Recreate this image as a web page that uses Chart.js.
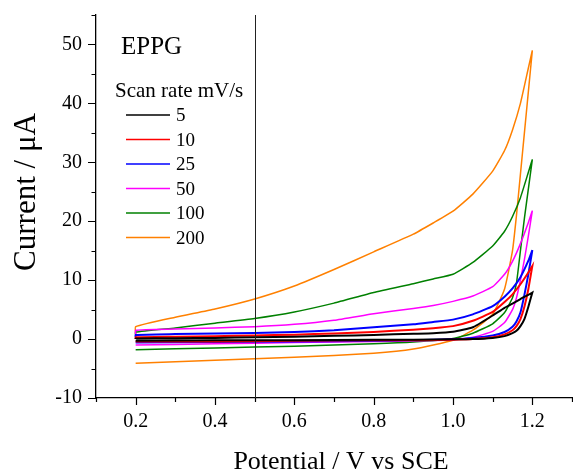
<!DOCTYPE html>
<html>
<head>
<meta charset="utf-8">
<script src="https://cdn.jsdelivr.net/npm/chart.js@4.4.1/dist/chart.umd.min.js"></script>
<style>
html, body { margin: 0; padding: 0; background: #fff; }
canvas { display: block; }
</style>
</head>
<body>
<canvas id="c" width="573" height="476"></canvas>
<script>
// ---- data ----
const scanRates = ['5', '10', '25', '50', '100', '200'];

// forward (anodic) branch potentials, V vs SCE (first point = scan start)
const potentialForward = [0.2, 0.2, 0.3, 0.4, 0.5, 0.6, 0.7, 0.8, 0.9, 0.95, 1.0, 1.05, 1.1, 1.13, 1.15, 1.17, 1.19, 1.2];
// reverse branch potentials
const potentialReverse = [1.2, 1.19, 1.18, 1.17, 1.16, 1.15, 1.13, 1.1, 1.05, 1.0, 0.9, 0.8, 0.6, 0.4, 0.2];

// currents, µA
const fwd5   = [0.0, 0.1, 0.15, 0.2, 0.3, 0.4, 0.55, 0.7, 0.9, 1.0, 1.25, 2.0, 4.0, 5.3, 6.0, 6.8, 7.5, 7.9];
const rev5   = [7.9, 5.5, 3.4, 2.2, 1.4, 1.0, 0.5, 0.2, 0.0, -0.05, -0.1, -0.1, -0.2, -0.2, -0.3];
const fwd10  = [0.0, 0.3, 0.4, 0.5, 0.6, 0.75, 0.95, 1.2, 1.6, 1.85, 2.2, 3.1, 4.6, 6.3, 7.6, 9.3, 11.3, 12.4];
const rev10  = [12.4, 8.5, 5.5, 3.4, 2.2, 1.5, 0.8, 0.3, 0.0, -0.1, -0.2, -0.2, -0.3, -0.4, -0.4];
const fwd25  = [0.3, 0.7, 0.85, 0.95, 1.05, 1.2, 1.5, 2.0, 2.5, 2.9, 3.3, 4.2, 5.6, 7.2, 8.6, 10.5, 13.3, 15.1];
const rev25  = [15.1, 11.0, 7.5, 4.5, 3.0, 2.1, 1.2, 0.6, 0.2, 0.0, -0.2, -0.3, -0.4, -0.5, -0.6];
const fwd50  = [0.8, 1.5, 1.7, 1.9, 2.1, 2.5, 3.2, 4.3, 5.2, 5.7, 6.4, 7.3, 8.9, 11.0, 13.2, 16.2, 19.8, 21.8];
const rev50  = [21.8, 17.5, 13.5, 10.0, 7.0, 5.0, 2.8, 1.3, 0.3, -0.1, -0.3, -0.4, -0.6, -0.8, -1.0];
const fwd100 = [0.6, 1.2, 1.9, 2.7, 3.5, 4.6, 6.1, 7.9, 9.4, 10.2, 11.0, 13.0, 15.8, 18.3, 20.8, 24.0, 28.3, 30.5];
const rev100 = [30.5, 25.5, 20.5, 15.0, 9.5, 7.0, 4.5, 2.6, 1.0, 0.1, -0.5, -0.8, -1.2, -1.5, -1.8];
const fwd200 = [0.8, 2.1, 3.7, 5.1, 6.8, 9.0, 11.8, 14.8, 17.8, 19.7, 21.7, 24.6, 28.5, 32.0, 35.5, 40.0, 46.0, 49.0];
const rev200 = [49.0, 42.0, 35.0, 28.0, 21.0, 15.0, 8.5, 4.2, 1.5, -0.2, -1.7, -2.4, -3.1, -3.6, -4.1];

const forwardCurrents = [fwd5, fwd10, fwd25, fwd50, fwd100, fwd200];
const reverseCurrents = [rev5, rev10, rev25, rev50, rev100, rev200];

// axis ticks
const xMin = 0.1, xMax = 1.3, xStep = 0.1;
const yMin = -10, yMax = 55, yStep = 5;
const markerPotential = 0.5;

const legendTitle = 'EPPG';
const legendSubtitle = 'Scan rate mV/s';
const xTitle = 'Potential / V vs SCE';
const yTitle = 'Current / \u03BCA';

// ---- styles ----
const colors = ['#000000', '#ff0000', '#0000ff', '#ff00ff', '#008000', '#ff8000'];
const widths = [2.0, 2.0, 2.0, 1.5, 1.5, 1.5];
const SERIF = '"Liberation Serif", "Times New Roman", serif';

function buildPoints(i) {
  const pts = [];
  forwardCurrents[i].forEach((v, k) => pts.push({ x: potentialForward[k], y: v }));
  reverseCurrents[i].forEach((v, k) => pts.push({ x: potentialReverse[k], y: v }));
  return pts;
}

const datasets = scanRates.map((r, i) => ({
  label: r,
  data: buildPoints(i),
  showLine: true,
  borderColor: colors[i],
  backgroundColor: colors[i],
  borderWidth: widths[i],
  pointRadius: 0,
  tension: 0.15,
  fill: false
}));

const decorPlugin = {
  id: 'decor',
  afterDraw(chart) {
    const ctx = chart.ctx;
    const xs = chart.scales.x, ys = chart.scales.y;
    const area = chart.chartArea;
    ctx.save();
    // tick marks (outward)
    ctx.strokeStyle = '#000';
    ctx.lineWidth = 1.2;
    ctx.beginPath();
    xs.ticks.forEach(t => {
      const px = Math.round(xs.getPixelForValue(t.value)) + 0.5;
      const major = Math.round(t.value * 10) % 2 === 0;
      ctx.moveTo(px, area.bottom);
      ctx.lineTo(px, area.bottom + (major ? 7 : 4));
    });
    ys.ticks.forEach(t => {
      const py = Math.round(ys.getPixelForValue(t.value)) + 0.5;
      const major = Math.round(t.value) % 10 === 0;
      ctx.moveTo(area.left, py);
      ctx.lineTo(area.left - (major ? 8 : 4.5), py);
    });
    ctx.stroke();

    // vertical marker line
    const mx = Math.round(xs.getPixelForValue(markerPotential)) + 0.5;
    ctx.lineWidth = 1;
    ctx.strokeStyle = '#222';
    ctx.beginPath();
    ctx.moveTo(mx, area.top);
    ctx.lineTo(mx, area.bottom);
    ctx.stroke();

    // axis titles
    ctx.fillStyle = '#000';
    ctx.font = '26px ' + SERIF;
    ctx.textAlign = 'center';
    ctx.textBaseline = 'alphabetic';
    ctx.fillText(xTitle, 341, 469);
    ctx.save();
    ctx.translate(35, 192);
    ctx.rotate(-Math.PI / 2);
    ctx.font = '31px ' + SERIF;
    ctx.fillText(yTitle, 0, 0);
    ctx.restore();

    // legend
    ctx.textAlign = 'left';
    ctx.font = '25px ' + SERIF;
    ctx.fillText(legendTitle, 121, 54);
    ctx.font = '21px ' + SERIF;
    ctx.fillText(legendSubtitle, 115, 97);
    ctx.font = '19px ' + SERIF;
    const rowY = [115, 139.5, 164, 188.5, 213, 237.5];
    chart.data.datasets.forEach((ds, i) => {
      const y = rowY[i];
      ctx.strokeStyle = ds.borderColor;
      ctx.lineWidth = 1.6;
      ctx.beginPath();
      ctx.moveTo(126, y);
      ctx.lineTo(170, y);
      ctx.stroke();
      ctx.fillStyle = '#000';
      ctx.fillText(ds.label, 176, y + 6);
    });
    ctx.restore();
  }
};

new Chart(document.getElementById('c'), {
  type: 'scatter',
  data: { datasets },
  options: {
    responsive: false,
    animation: false,
    devicePixelRatio: 1,
    layout: { padding: { left: 0, right: 1, top: 15, bottom: 0 } },
    plugins: { legend: { display: false }, tooltip: { enabled: false } },
    scales: {
      x: {
        type: 'linear',
        min: xMin, max: xMax,
        afterFit(s) { s.height = 78; s.paddingLeft = 0; s.paddingRight = 0; },
        border: { display: true, color: '#000', width: 1.3 },
        grid: { display: true, drawOnChartArea: false, drawTicks: false },
        ticks: {
          stepSize: xStep,
          autoSkip: false,
          maxRotation: 0,
          padding: 12,
          color: '#000',
          font: { family: SERIF, size: 20 },
          callback(v) {
            const k = Math.round(v * 10);
            return (k % 2 === 0 && k >= 2 && k <= 12) ? (k / 10).toFixed(1) : '';
          }
        }
      },
      y: {
        type: 'linear',
        min: yMin, max: yMax,
        afterFit(s) { s.width = 96; s.paddingTop = 0; s.paddingBottom = 0; },
        border: { display: true, color: '#000', width: 1.3 },
        grid: { display: true, drawOnChartArea: false, drawTicks: false },
        ticks: {
          stepSize: yStep,
          autoSkip: false,
          padding: 14,
          color: '#000',
          font: { family: SERIF, size: 20 },
          callback(v) {
            const k = Math.round(v);
            return (k % 10 === 0 && k <= 50) ? String(k) : '';
          }
        }
      }
    }
  },
  plugins: [decorPlugin]
});
</script>
</body>
</html>
